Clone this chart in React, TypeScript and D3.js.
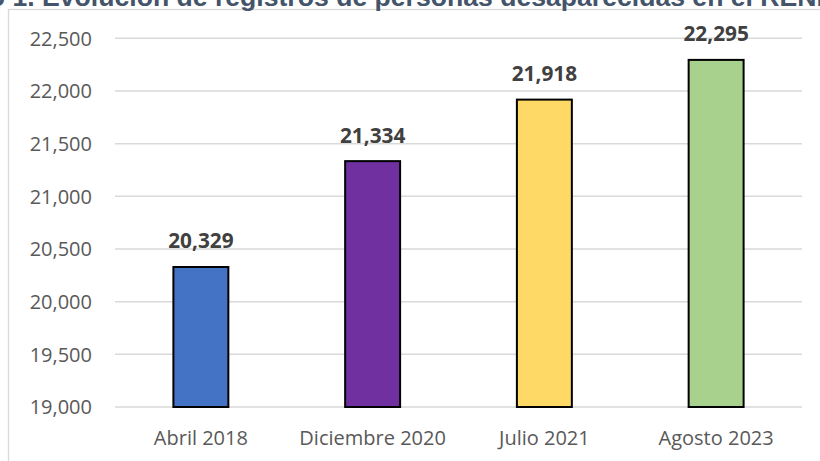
import React from "react";
import * as d3 from "d3";

const categories = ["Abril 2018", "Diciembre 2020", "Julio 2021", "Agosto 2023"];
const values = [20329, 21334, 21918, 22295];
const barColors = ["#4472C4", "#7030A0", "#FFD966", "#A9D18E"];
const yTicks = [19000, 19500, 20000, 20500, 21000, 21500, 22000, 22500];
const title = "Gráfico 1. Evolución de registros de personas desaparecidas en el RENPED";

const W = 820;
const H = 461;
const plotLeft = 115;
const plotRight = 802;
const plotTop = 38.3;
const plotBottom = 407;

export default function App() {
  const x = d3
    .scaleBand<string>()
    .domain(categories)
    .range([plotLeft, plotRight])
    .paddingInner(0.68)
    .paddingOuter(0.34);
  const y = d3.scaleLinear().domain([19000, 22500]).range([plotBottom, plotTop]);
  const fmt = d3.format(",");
  const font = "'Open Sans', 'Noto Sans', sans-serif";

  return (
    <svg
      width={W}
      height={H}
      style={{ position: "fixed", left: 0, top: 0, background: "#fff" }}
    >
      <rect x={0} y={0} width={W} height={H} fill="#fff" />
      {/* chart frame */}
      <rect x={8.5} y={9.5} width={W + 10} height={H + 10} fill="none" stroke="#d9d9d9" strokeWidth={1.3} />
      {/* title (clipped at top, as in the reference) */}
      <text
        x={-88}
        y={5.5}
        fontFamily="'Liberation Sans', Arial, sans-serif"
        fontWeight="bold"
        fontSize={26.6}
        fill="#44546A"
      >
        {title}
      </text>
      {/* gridlines */}
      {yTicks.map((t) => (
        <line
          key={t}
          x1={plotLeft}
          x2={plotRight}
          y1={y(t)}
          y2={y(t)}
          stroke="#d9d9d9"
          strokeWidth={1.5}
        />
      ))}
      {/* y tick labels */}
      {yTicks.map((t) => (
        <text
          key={"l" + t}
          x={92}
          y={y(t) + 7.2}
          textAnchor="end"
          fontFamily={font}
          fontSize={20}
          fill="#595959"
        >
          {fmt(t)}
        </text>
      ))}
      {/* bars */}
      {categories.map((c, i) => (
        <rect
          key={c}
          x={x(c)!}
          y={y(values[i])}
          width={x.bandwidth()}
          height={plotBottom - y(values[i])}
          fill={barColors[i]}
          stroke="#000"
          strokeWidth={2}
        />
      ))}
      {/* value labels */}
      {categories.map((c, i) => (
        <text
          key={"v" + c}
          x={x(c)! + x.bandwidth() / 2}
          y={y(values[i]) - 18.5}
          textAnchor="middle"
          fontFamily={font}
          fontWeight="bold"
          fontSize={20.8}
          fill="#404040"
        >
          {fmt(values[i])}
        </text>
      ))}
      {/* category labels */}
      {categories.map((c) => (
        <text
          key={"c" + c}
          x={x(c)! + x.bandwidth() / 2}
          y={445}
          textAnchor="middle"
          fontFamily={font}
          fontSize={20}
          fill="#595959"
        >
          {c}
        </text>
      ))}
    </svg>
  );
}
